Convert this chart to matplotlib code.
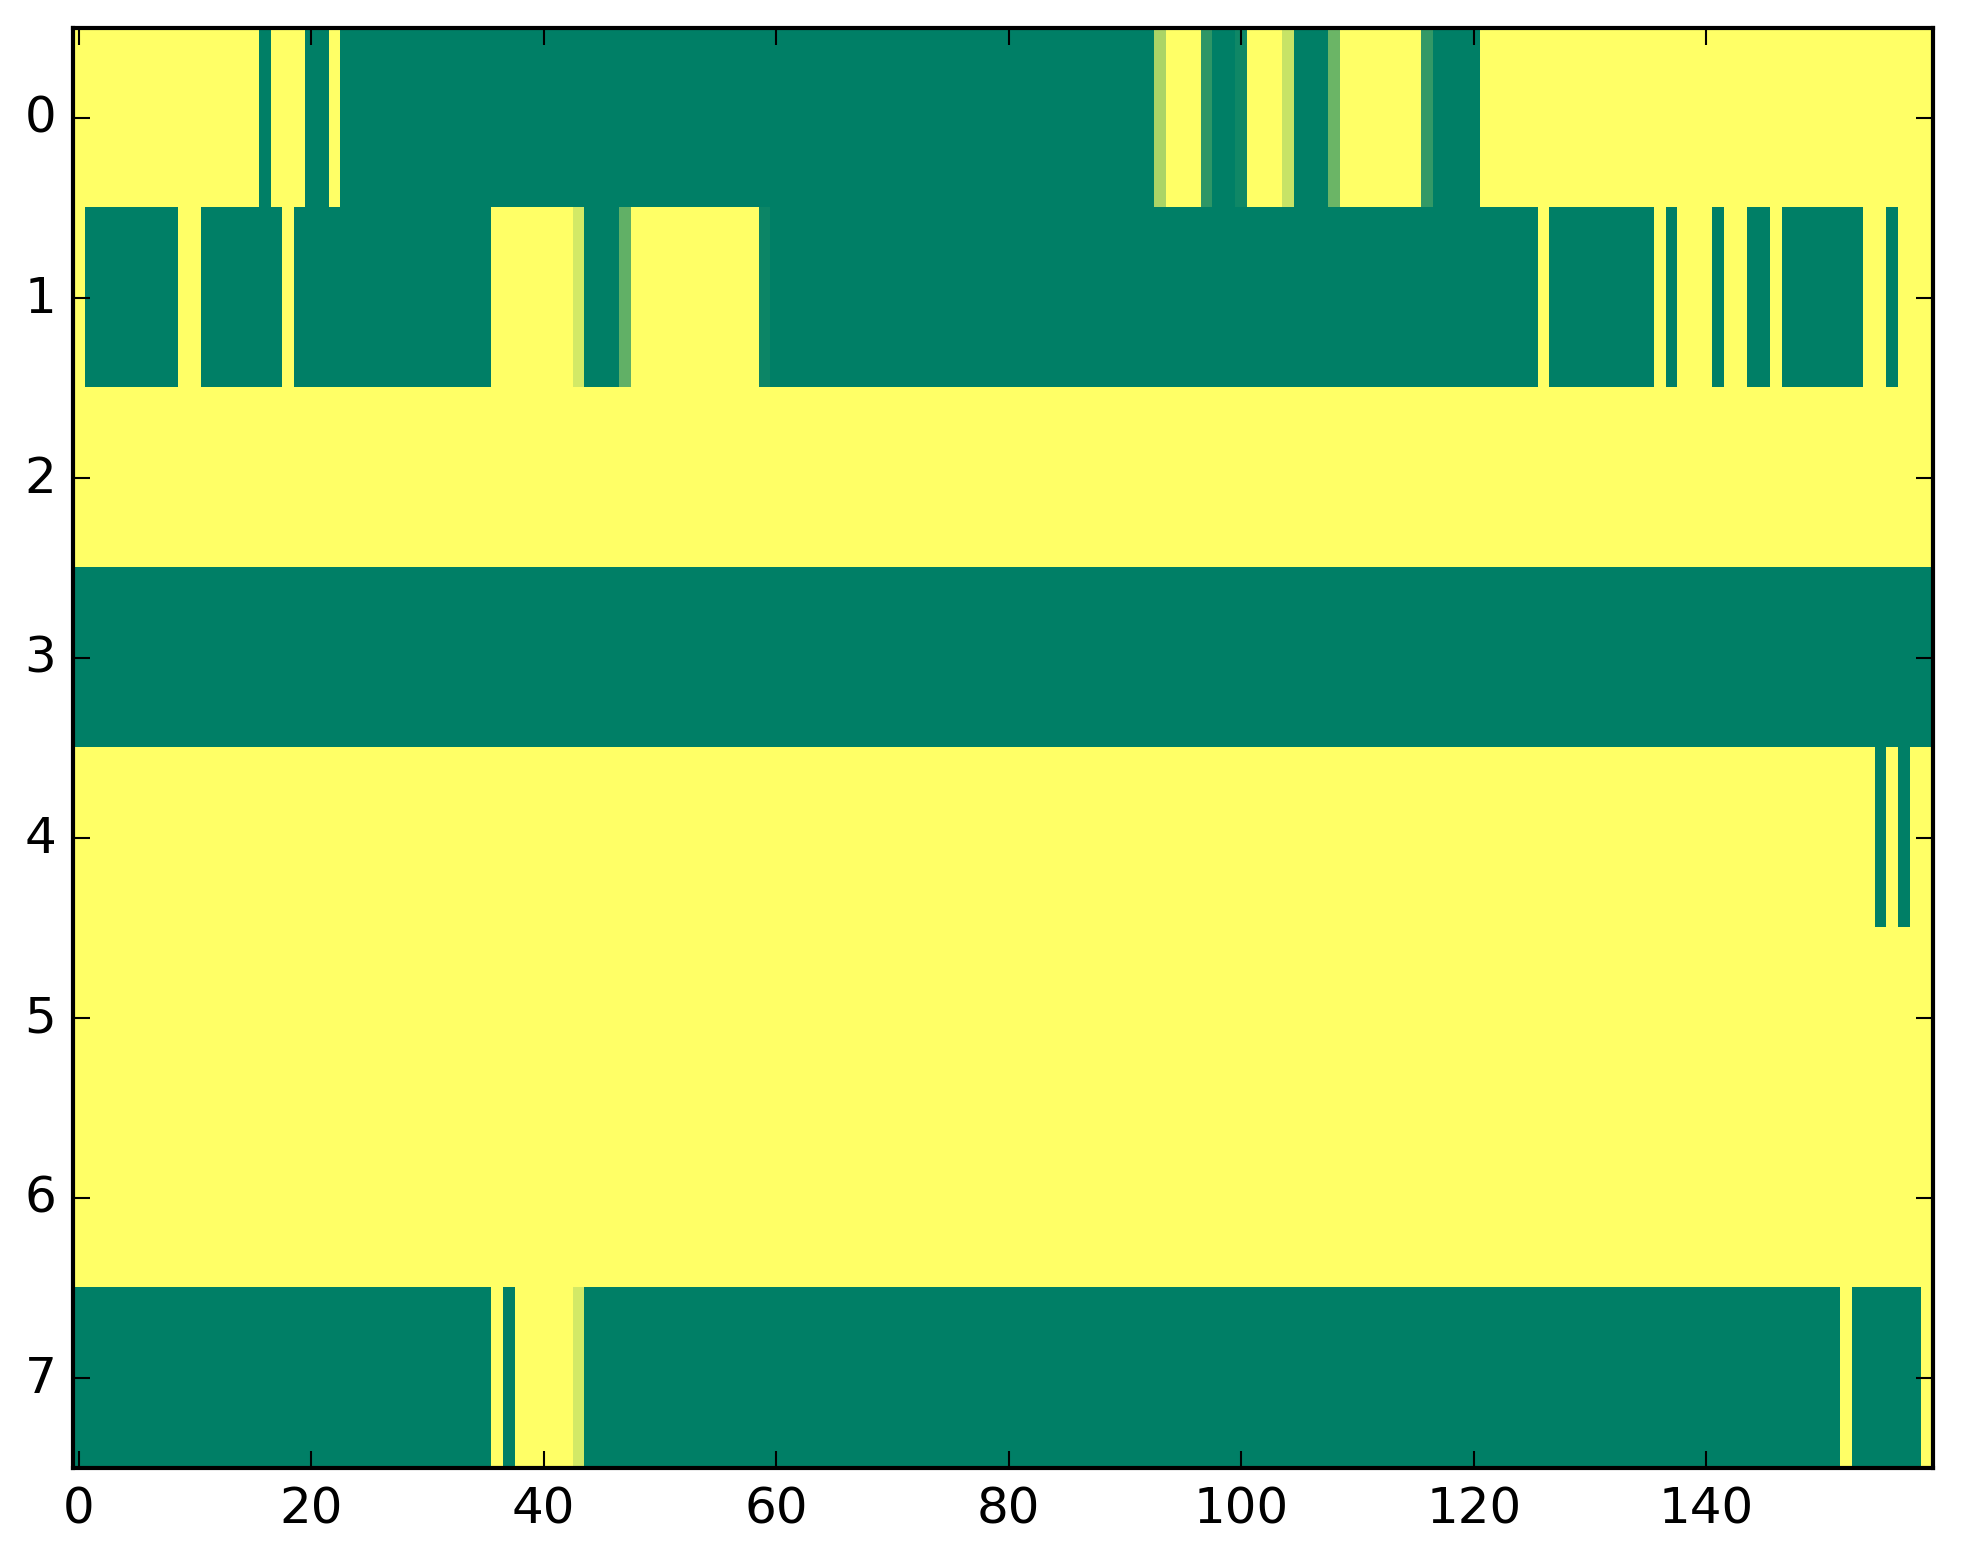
import numpy as np
import matplotlib
matplotlib.use("Agg")
import matplotlib.pyplot as plt

plt.style.use('classic')

# Each row given as runs of (value, number of columns); 0 = green, 1 = yellow
row0 = [(1, 16), (0, 1), (1, 3), (0, 2), (1, 1), (0, 70), (0.67, 1), (1, 3),
        (0.18, 1), (0, 2), (0.06, 1), (1, 3), (0.78, 1), (0, 3), (0.42, 1),
        (1, 7), (0.2, 1), (0, 4), (1, 39)]
row1 = [(1, 1), (0, 8), (1, 2), (0, 7), (1, 1), (0, 17), (1, 7), (0.83, 1),
        (0, 3), (0.38, 1), (1, 11), (0.05, 1), (0, 66), (1, 1), (0, 9), (1, 1),
        (0, 1), (1, 3), (0, 1), (1, 2), (0, 2), (1, 1), (0, 7), (1, 2), (0, 1),
        (1, 3)]
row2 = [(1, 160)]
row3 = [(0, 160)]
row4 = [(1, 155), (0, 1), (1, 1), (0, 1), (1, 2)]
row5 = [(1, 160)]
row6 = [(1, 160)]
row7 = [(0, 36), (1, 1), (0, 1), (1, 5), (0.83, 1), (0, 108), (1, 1), (0, 6),
        (1, 1)]

rows = [row0, row1, row2, row3, row4, row5, row6, row7]
xticks = [0, 20, 40, 60, 80, 100, 120, 140]
yticks = [0, 1, 2, 3, 4, 5, 6, 7]


def expand(runs):
    out = []
    for v, n in runs:
        out.extend([v] * n)
    return out


data = np.array([expand(r) for r in rows], dtype=float)

W, H = 1963, 1564
fig = plt.figure(figsize=(W / 300, H / 300), dpi=300)
ax = fig.add_axes([73 / W, (H - 1468.5) / H, 1860 / W, 1439.5 / H])
ax.imshow(data, cmap='summer', aspect='auto', interpolation='nearest',
          vmin=0, vmax=1)
ax.set_xlim(-0.5, data.shape[1] - 0.5)
ax.set_ylim(data.shape[0] - 0.5, -0.5)
ax.set_xticks(xticks)
ax.set_yticks(yticks)
fig.savefig('out.png', dpi=300)
